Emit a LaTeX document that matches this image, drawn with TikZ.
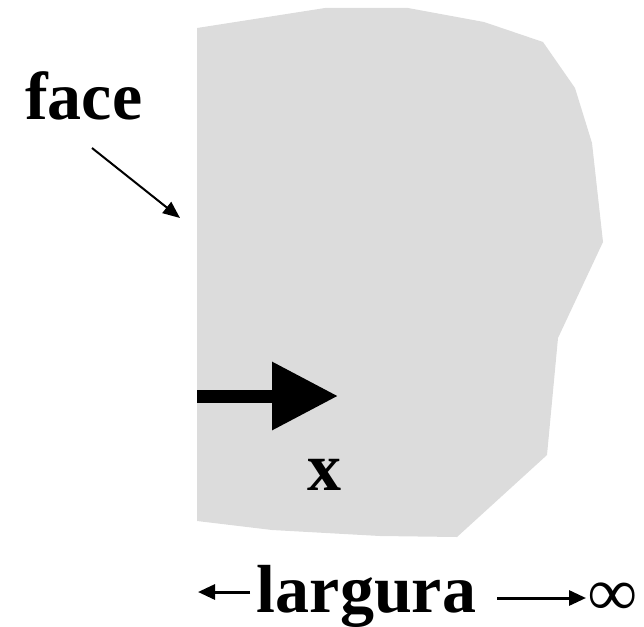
\documentclass[tikz,border=0pt]{standalone}
\usepackage{fontspec}
\setmainfont{Liberation Serif}
\usetikzlibrary{arrows.meta}
\definecolor{slab}{RGB}{220,220,220}
\begin{document}
\begin{tikzpicture}[x=1pt,y=-1pt,
  lbl/.style={font=\fontsize{68}{68}\selectfont\bfseries, inner sep=0pt},
  thinarrow/.style={line width=2pt, -{Triangle[length=17pt,width=14pt]}},
  dimarrow/.style={line width=3pt, -{Triangle[length=17pt,width=15pt]}},
  bigarrow/.style={line width=13pt, -{Triangle[length=66pt,width=65pt]}}]
\useasboundingbox (0,0) rectangle (644,626);
% body
\fill[slab] (197,28) -- (325,8) -- (408,8) -- (484,22) -- (543,42) -- (575,88)
  -- (592,143) -- (603,242) -- (558,338) -- (547,455) -- (457,537) -- (380,536)
  -- (272,530) -- (197,521) -- cycle;
% labels
\node[lbl, anchor=base west] (face) at (25,119) {face};
\node[lbl, anchor=base] (x) at (324.5,490) {x};
\node[lbl, anchor=base] (largura) at (366.5,612) {largura};
\node[lbl] (inf) at (612.5,599) {∞};
% coordinates
\coordinate (fs) at (92,148);
\coordinate (fe) at (180,218);
\coordinate (xs) at (197,396);
\coordinate (xe) at (338,396);
\coordinate (ls) at (250,592);
\coordinate (le) at (198,592);
\coordinate (rs) at (497,598);
\coordinate (re) at (586,598);
% arrows
\draw[thinarrow] (fs) -- (fe);
\draw[bigarrow] (xs) -- (xe);
\draw[dimarrow] (ls) -- (le);
\draw[dimarrow] (rs) -- (re);
\end{tikzpicture}
\end{document}
